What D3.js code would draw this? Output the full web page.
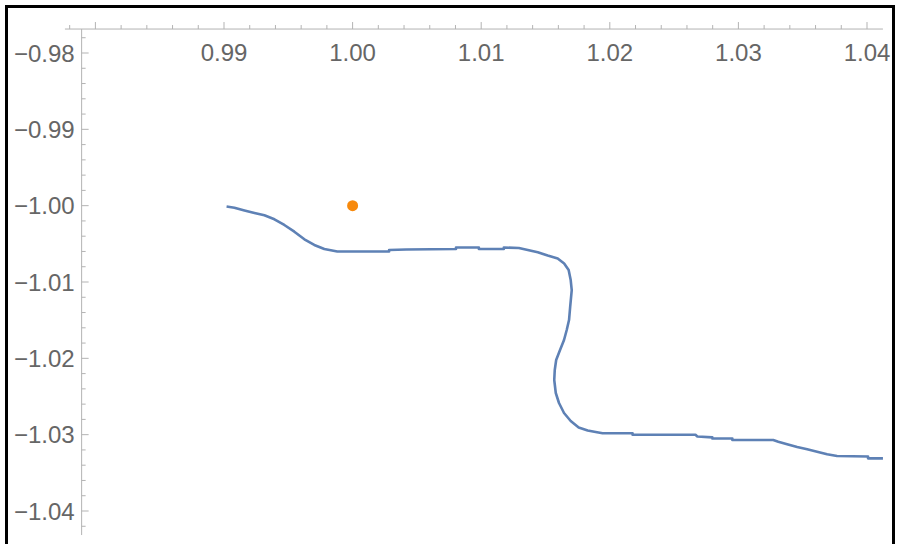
<!DOCTYPE html>
<html>
<head>
<meta charset="utf-8">
<script src="https://cdn.jsdelivr.net/npm/d3@7"></script>
<style>
  html, body { margin: 0; padding: 0; background: #fff; }
  svg { display: block; }
  text { font-family: "Liberation Sans", Arial, sans-serif; }
</style>
</head>
<body>
<svg id="chart" width="900" height="544"></svg>
<script>
// ---- data ----
const curveX = [0.9902, 0.99081, 0.99159, 0.99237, 0.99314, 0.99392, 0.99469, 0.99547, 0.99625, 0.99702,
  0.99780, 0.99881, 1.00284, 1.00284, 1.00416, 1.00804, 1.00804, 1.00982, 1.00982, 1.01176,
  1.01176, 1.01293, 1.01362, 1.01440, 1.01517, 1.01595, 1.01645, 1.01680, 1.01696, 1.01704,
  1.01692, 1.01683, 1.01665, 1.01644, 1.01613, 1.01583, 1.01572, 1.01568, 1.01580, 1.01605,
  1.01644, 1.01696, 1.01758, 1.01828, 1.01890, 1.01944, 1.02177, 1.02177, 1.02666, 1.02681,
  1.02797, 1.02797, 1.02953, 1.02953, 1.03271, 1.03310, 1.03379, 1.03457, 1.03535, 1.03612,
  1.03690, 1.03767, 1.04008, 1.04008, 1.04124];
const curveY = [-1.00011, -1.00027, -1.00063, -1.00096, -1.00126, -1.00179, -1.00253, -1.00341, -1.00441, -1.00515,
  -1.00568, -1.00601, -1.00601, -1.00581, -1.00574, -1.00568, -1.00548, -1.00548, -1.00568, -1.00568,
  -1.00548, -1.00555, -1.00581, -1.00611, -1.00653, -1.00692, -1.00758, -1.00843, -1.00974, -1.01105,
  -1.01324, -1.01498, -1.01629, -1.01760, -1.01891, -1.02022, -1.02153, -1.02284, -1.02454, -1.02585,
  -1.02716, -1.02821, -1.02906, -1.02946, -1.02965, -1.02982, -1.02982, -1.03001, -1.03001, -1.03024,
  -1.03035, -1.03050, -1.03050, -1.03070, -1.03070, -1.03092, -1.03126, -1.03162, -1.03192, -1.03223,
  -1.03257, -1.03280, -1.03286, -1.03310, -1.03310];
const pointX = [1.00];
const pointY = [-1.00];
const xTickLabels = ["0.99", "1.00", "1.01", "1.02", "1.03", "1.04"];
const yTickLabels = ["-0.98", "-0.99", "-1.00", "-1.01", "-1.02", "-1.03", "-1.04"];
const xMajor = [0.98, 0.99, 1.00, 1.01, 1.02, 1.03, 1.04];
const yMajor = [-0.98, -0.99, -1.00, -1.01, -1.02, -1.03, -1.04];
const xRange = [0.97763, 1.04124];     // plot range along x (axis extent)
const yRange = [-0.97686, -1.04315];   // plot range along y (axis extent)
const axisCross = [0.97893, -0.97686]; // where the axes sit

// ---- layout ----
const svg = d3.select("#chart");
const x = d3.scaleLinear().domain([0.99, 1.04]).range([224, 867]);
const y = d3.scaleLinear().domain([-0.98, -1.04]).range([53, 511]);

const axisColor = "#b3b3b3";
const labelColor = "#666666";

// frame
svg.append("rect").attr("x", 6.5).attr("y", 6.5).attr("width", 887).attr("height", 580)
  .attr("fill", "none").attr("stroke", "#000").attr("stroke-width", 3);

const g = svg.append("g");

// x axis line
const xAxisY = y(axisCross[1]);
g.append("line").attr("x1", x(xRange[0])).attr("x2", x(xRange[1]))
  .attr("y1", xAxisY).attr("y2", xAxisY).attr("stroke", axisColor).attr("stroke-width", 1);
// y axis line
const yAxisX = x(axisCross[0]);
g.append("line").attr("x1", yAxisX).attr("x2", yAxisX)
  .attr("y1", y(yRange[0])).attr("y2", y(yRange[1])).attr("stroke", axisColor).attr("stroke-width", 1);

// x ticks (minor every 0.002)
const xMinor = d3.range(0, 40).map(i => +(0.97 + i * 0.002).toFixed(3))
  .filter(v => v >= xRange[0] && v <= xRange[1]);
const isMajorX = v => xMajor.some(m => Math.abs(m - v) < 1e-6);
g.selectAll(".xt").data(xMinor).enter().append("line")
  .attr("x1", d => x(d)).attr("x2", d => x(d))
  .attr("y1", xAxisY).attr("y2", d => xAxisY - (isMajorX(d) ? 7 : 4))
  .attr("stroke", axisColor).attr("stroke-width", 1);

// y ticks
const yMinor = d3.range(0, 40).map(i => +(-0.97 - i * 0.002).toFixed(3))
  .filter(v => v <= yRange[0] && v >= yRange[1]);
const isMajorY = v => yMajor.some(m => Math.abs(m - v) < 1e-6);
g.selectAll(".yt").data(yMinor).enter().append("line")
  .attr("x1", yAxisX).attr("x2", d => yAxisX + (isMajorY(d) ? 7 : 4))
  .attr("y1", d => y(d)).attr("y2", d => y(d))
  .attr("stroke", axisColor).attr("stroke-width", 1);

// x tick labels
g.selectAll(".xl").data(xTickLabels).enter().append("text")
  .attr("x", d => x(+d)).attr("y", xAxisY + 32)
  .attr("text-anchor", "middle").attr("font-size", 24).attr("fill", labelColor)
  .text(d => d);

// y tick labels
g.selectAll(".yl").data(yTickLabels).enter().append("text")
  .attr("x", yAxisX - 7).attr("y", d => y(+d) + 8.5)
  .attr("text-anchor", "end").attr("font-size", 24).attr("fill", labelColor)
  .text(d => d.replace("-", "\u2212"));

// curve
const pts = curveX.map((v, i) => [v, curveY[i]]);
g.append("path").datum(pts)
  .attr("d", d3.line().x(d => x(d[0])).y(d => y(d[1])))
  .attr("fill", "none").attr("stroke", "#5e81b5").attr("stroke-width", 2.6)
  .attr("stroke-linejoin", "round");

// point
g.selectAll(".pt").data(pointX.map((v, i) => [v, pointY[i]])).enter().append("circle")
  .attr("cx", d => x(d[0])).attr("cy", d => y(d[1])).attr("r", 5.5)
  .attr("fill", "#f7890c");
</script>
</body>
</html>
